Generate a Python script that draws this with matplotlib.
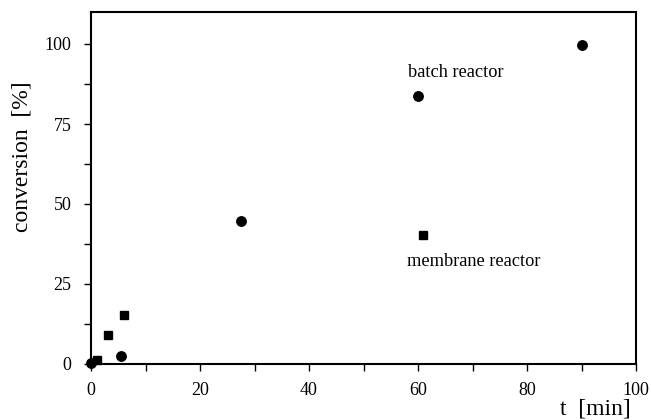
import matplotlib
matplotlib.use("Agg")
import matplotlib.pyplot as plt
from matplotlib.ticker import MultipleLocator

plt.rcParams['font.family'] = ['Liberation Serif', 'DejaVu Serif']

batch_t = [0, 5.5, 27.5, 60, 90]
batch_conv = [0.3, 2.4, 44.8, 83.8, 99.6]
membrane_t = [1.1, 3.1, 6.1, 60.9]
membrane_conv = [1.2, 9.1, 15.2, 40.4]

x_ticks = [0, 20, 40, 60, 80, 100]
y_ticks = [0, 25, 50, 75, 100]

fig = plt.figure(figsize=(6.51, 4.2), dpi=100)
ax = fig.add_axes([91/651, 1-364/420, (636-91)/651, (364-12)/420])

ax.plot(batch_t, batch_conv, 'o', color='black', markersize=6.8, clip_on=False, zorder=5)
ax.plot(membrane_t, membrane_conv, 's', color='black', markersize=6.2, clip_on=False, zorder=5)

ax.set_xlim(0, 100)
ax.set_ylim(0, 110)
ax.set_xticks(x_ticks)
ax.set_yticks(y_ticks)
ax.xaxis.set_minor_locator(MultipleLocator(10))
ax.yaxis.set_minor_locator(MultipleLocator(12.5))
ax.tick_params(which='both', direction='out', length=5, width=1, labelsize=13, color='black')
ax.tick_params(axis='x', pad=8)
ax.tick_params(axis='y', pad=9)
for s in ax.spines.values():
    s.set_linewidth(1.5)

ax.text(58.2, 91, 'batch reactor', fontsize=13.2, va='center', ha='left')
ax.text(58.0, 32, 'membrane reactor', fontsize=13.2, va='center', ha='left')

fig.text(22/651, 1-157/420, 'conversion  [%]', rotation=90, fontsize=17, ha='center', va='center')
fig.text(631/651, 1-409/420, 't  [min]', fontsize=17, ha='right', va='center')

fig.savefig('out.png', dpi=100)
